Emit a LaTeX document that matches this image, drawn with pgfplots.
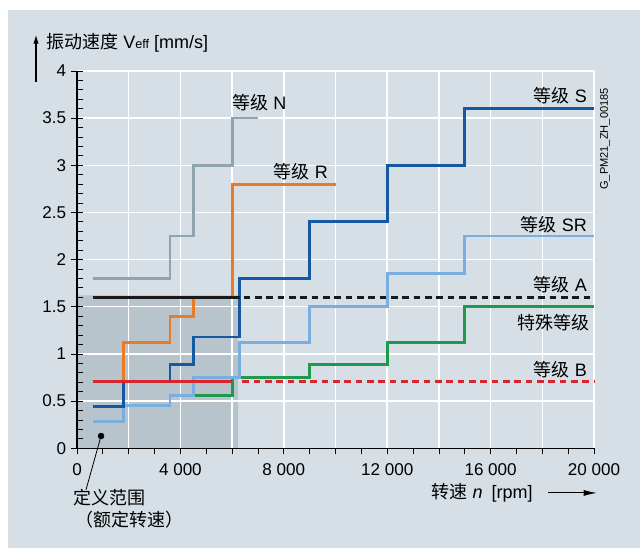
\documentclass[border=0pt]{standalone}
\usepackage{fontspec}
\setmainfont{Liberation Sans}
\newfontfamily\cjk{Noto Sans CJK SC}
\usepackage{pgfplots}
\pgfplotsset{compat=1.18}
\usetikzlibrary{arrows.meta}
\definecolor{panel}{HTML}{D5DFE5}
\definecolor{shade}{HTML}{B7C4CC}
\definecolor{cN}{HTML}{8FA4AF}
\definecolor{cR}{HTML}{EC7A22}
\definecolor{cS}{HTML}{1659A3}
\definecolor{cSR}{HTML}{78AFDE}
\definecolor{cG}{HTML}{1E9A4A}
\definecolor{cB}{HTML}{D9262E}
\definecolor{cA}{HTML}{1A1A1A}
\begin{document}
\fontsize{13.5}{16}\selectfont
\begin{tikzpicture}
\begin{axis}[at={(0pt,0pt)}, anchor=south west, scale only axis,
  width=387.75pt, height=283pt,
  xmin=0, xmax=20000, ymin=0, ymax=4,
  set layers, clip=false,
  axis lines*=left,
  axis line style={black, line width=0.8pt},
  xtick={0,2000,...,20000},
  xticklabels={0,,4 000,,8 000,,12 000,,16 000,,20 000},
  ytick={0,0.5,...,4},
  yticklabels={0,0.5,1,1.5,2,2.5,3,3.5,4},
  minor xtick={0,1000,...,20000},
  minor ytick={0,0.1,...,4.05},
  grid=major,
  major grid style={white, line width=1.1pt},
  tick align=center,
  major tick length=9pt, minor tick length=4.5pt,
  tick style={black, line width=0.6pt},
  major x tick style={draw=none},
  minor x tick style={yshift=-2.25pt},
  minor y tick style={xshift=2.25pt},
  every tick label/.style={font=\fontsize{12.8}{15}\selectfont},
  yticklabel style={xshift=1pt},
  xticklabel style={yshift=-2pt},
  scaled x ticks=false,
]
\begin{pgfonlayer}{axis background}
\fill[white] (rel axis cs:-0.14894,-0.26431) rectangle (rel axis cs:1.08897,1.18799);
\fill[panel] (rel axis cs:-0.13346,-0.26431) rectangle (rel axis cs:1.08897,1.16148);
\end{pgfonlayer}
\addplot[fill=shade, draw=none, on layer=axis background] coordinates {(0,0)(0,1.62)(6230,1.62)(6230,0)(0,0)};
\addplot[const plot, cN, line width=2.1pt] coordinates {(600,1.8)(3600,2.25)(4500,3.0)(6000,3.5)(7000,3.5)};
\addplot[const plot, cR, line width=2.1pt] coordinates {(600,0.71)(1800,1.12)(3600,1.4)(4500,1.6)(6000,2.8)(10000,2.8)};
\addplot[const plot, cG, line width=2.1pt] coordinates {(4500,0.56)(6000,0.75)(9000,0.89)(12000,1.12)(15000,1.5)(20000,1.5)};
\addplot[const plot, cSR, line width=2.1pt] coordinates {(600,0.28)(1800,0.45)(3600,0.56)(4500,0.75)(6300,1.12)(9000,1.5)(12000,1.85)(15000,2.25)(20000,2.25)};
\addplot[const plot, cS, line width=2.1pt] coordinates {(600,0.44)(1800,0.71)(3600,0.89)(4500,1.18)(6300,1.8)(9000,2.4)(12000,3.0)(15000,3.6)(20000,3.6)};
\addplot[cA, line width=2.1pt] coordinates {(600,1.6)(6300,1.6)};
\addplot[cA, line width=2.1pt, dash pattern=on 5pt off 3.5pt] coordinates {(6450,1.6)(20000,1.6)};
\addplot[cB, line width=2.1pt] coordinates {(600,0.71)(6000,0.71)};
\addplot[cB, line width=2.1pt, dash pattern=on 5pt off 3.5pt] coordinates {(6400,0.71)(20000,0.71)};
\addplot[only marks, mark=*, mark size=2.2pt, black] coordinates {(930,0.13)};
\draw[black, line width=0.6pt] (axis cs:930,0.13) -- (axis cs:348,-0.44);
\node[anchor=west, inner sep=0pt] at (axis cs:6000,3.66) {{\cjk 等级} N};
\node[inner sep=0pt] at (axis cs:8665,2.93) {{\cjk 等级} R};
\node[anchor=east, inner sep=0pt] at (axis cs:19730,3.74) {{\cjk 等级} S};
\node[anchor=east, inner sep=0pt] at (axis cs:19730,2.37) {{\cjk 等级} SR};
\node[anchor=east, inner sep=0pt] at (axis cs:19730,1.73) {{\cjk 等级} A};
\node[anchor=east, inner sep=0pt] at (axis cs:19845,1.33) {\cjk 特殊等级};
\node[anchor=east, inner sep=0pt] at (axis cs:19730,0.83) {{\cjk 等级} B};
\end{axis}
\draw[black, line width=0.8pt, -{Latex[length=6.5pt,width=4pt]}] (-30.75pt,274.7pt) -- (-30.75pt,310pt);
\node[anchor=west, inner sep=0pt] at (-23.25pt,304pt) {{\cjk 振动速度} V{\fontsize{9.5}{10}\selectfont eff} [mm/s]};
\node[inner sep=0pt] at (303.75pt,-33.3pt) {{\cjk 转速} \textit{n}\hspace{0.5em}[rpm]};
\draw[black, line width=0.8pt, -{Latex[length=10pt,width=4.5pt]}] (353.25pt,-33.5pt) -- (390pt,-33.5pt);
\node[anchor=west, inner sep=0pt] at (-3pt,-37.2pt) {\cjk 定义范围};
\node[anchor=west, inner sep=0pt] at (-1pt,-53.7pt) {\cjk （额定转速）};
\node[rotate=90, inner sep=0pt, font=\fontsize{8.3}{10}\selectfont] at (396pt,232pt) {G\_PM21\_ZH\_00185};
\end{tikzpicture}
\end{document}
